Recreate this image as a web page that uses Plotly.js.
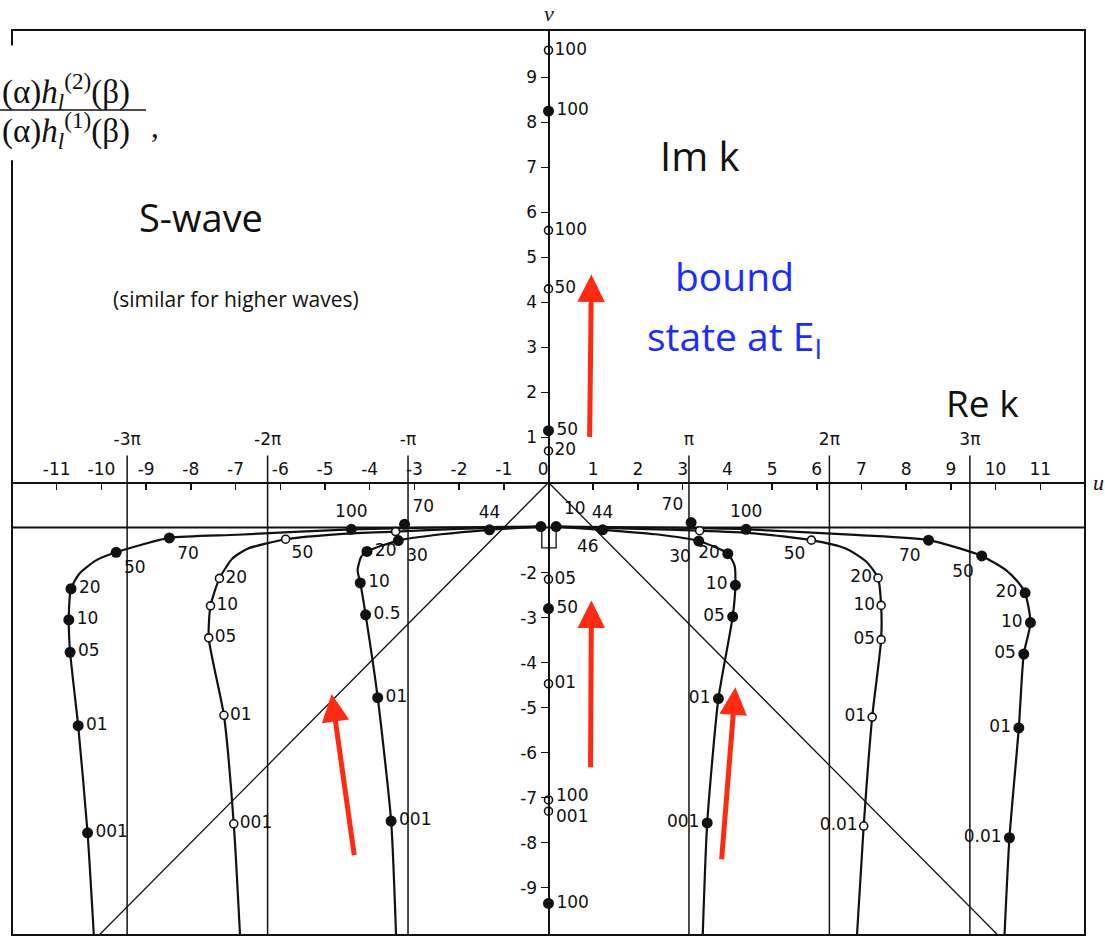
<!DOCTYPE html>
<html><head><meta charset="utf-8">
<script src="https://cdn.plot.ly/plotly-3.0.1.min.js"></script>
<style>html,body{margin:0;padding:0;background:#fff}#chart{width:1105px;height:937px}</style>
</head><body><div id="chart"></div>
<script>
// ---------- axis tick data ----------
const xTickVals = [-11,-10,-9,-8,-7,-6,-5,-4,-3,-2,-1,0,1,2,3,4,5,6,7,8,9,10,11];
const xTickText = ['-11','-10','-9','-8','-7','-6','-5','-4','-3','-2','-1','0\u00a0\u00a0','1','2','3','4','5','6','7','8','9','10','11'];
const yTickVals = [9,8,7,6,5,4,3,2,1,-2,-3,-4,-5,-6,-7,-8,-9];
const yTickText = ['9','8','7','6','5','4','3','2','1','-2','-3','-4','-5','-6','-7','-8','-9'];
const piVals = [-9.425,-6.283,-3.142,3.142,6.283,9.425];
const piText = ['-3\u03c0','-2\u03c0','-\u03c0','\u03c0','2\u03c0','3\u03c0'];

// ---------- reference lines ----------
const diagX = [-10.05, 0, 10.05];
const diagY = [-10.05, 0, -10.05];
const lineM1X = [-12, 12];
const lineM1Y = [-1, -1];

// ---------- pole trajectories ----------
const leftOuterX = [-10.17,-10.31,-10.52,-10.70,-10.73,-10.68,-10.49,-10.12,-9.67,-8.48,-6.96,-4.41,-2.50,-0.17];
const leftOuterY = [-10.05,-7.78,-5.40,-3.77,-3.05,-2.36,-2.02,-1.73,-1.55,-1.23,-1.16,-1.04,-1.00,-0.98];
const leftOpenX = [-6.90,-7.04,-7.26,-7.60,-7.56,-7.36,-7.07,-6.73,-5.88,-4.60,-3.42,-2.00,-0.17];
const leftOpenY = [-10.05,-7.58,-5.17,-3.45,-2.74,-2.13,-1.69,-1.47,-1.26,-1.14,-1.09,-1.03,-0.98];
const leftInnerX = [-3.41,-3.52,-3.82,-4.09,-4.21,-4.27,-4.19,-4.06,-3.36,-2.40,-1.32,-0.17];
const leftInnerY = [-10.05,-7.52,-4.78,-2.94,-2.23,-1.95,-1.65,-1.53,-1.29,-1.15,-1.05,-0.98];
const rightInnerX = [3.45,3.55,3.80,4.12,4.18,4.16,4.01,3.36,2.40,1.21,0.17];
const rightInnerY = [-10.05,-7.56,-4.80,-2.98,-2.28,-1.84,-1.58,-1.30,-1.15,-1.05,-0.98];
const rightOpenX = [6.90,7.05,7.24,7.44,7.44,7.37,7.11,6.66,5.88,4.60,3.38,2.00,0.17];
const rightOpenY = [-10.05,-7.63,-5.21,-3.49,-2.73,-2.12,-1.76,-1.47,-1.28,-1.13,-1.07,-1.03,-0.98];
const rightOuterX = [10.20,10.31,10.52,10.63,10.78,10.66,10.50,10.24,9.69,8.50,6.96,4.42,2.50,0.17];
const rightOuterY = [-10.05,-7.89,-5.45,-3.81,-3.11,-2.45,-2.21,-1.95,-1.63,-1.28,-1.17,-1.04,-1.00,-0.98];
const bracketX = [-0.15,-0.15,0.17,0.17];
const bracketY = [-0.98,-1.45,-1.45,-0.98];

// ---------- labelled points ----------
const filledX = [-10.31,-10.52,-10.70,-10.73,-10.68,-9.67,-8.48,
  -3.52,-3.82,-4.09,-4.21,-4.06,-3.36,-1.32,-4.41,-3.22,0.17,
  3.55,3.80,4.12,4.18,4.01,3.36,1.21,3.19,4.42,
  10.31,10.52,10.63,10.78,10.66,9.69,8.50,
  0,0,0,0];
const filledY = [-7.78,-5.40,-3.77,-3.05,-2.36,-1.55,-1.23,
  -7.52,-4.78,-2.94,-2.23,-1.53,-1.29,-1.05,-1.04,-0.93,-0.98,
  -7.56,-4.80,-2.98,-2.28,-1.58,-1.30,-1.05,-0.89,-1.04,
  -7.89,-5.45,-3.81,-3.11,-2.45,-1.63,-1.28,
  8.25,1.15,-2.80,-9.35];
const filledText = ['001','01','05','10','20','50','70',
  '001','01','0.5','10','20','30','44','100','70','10',
  '001','01','05','10','20','30','44','70','100',
  '0.01','01','05','10','20','50','70',
  '100','50','50','100'];
const filledPos = ['middle right','middle right','middle right','middle right','middle right','bottom right','bottom right',
  'middle right','middle right','middle right','middle right','middle right','bottom right','top center','top center','top right','top right',
  'middle left','middle left','middle left','middle left','middle left','bottom left','top center','top left','top center',
  'middle left','middle left','middle left','middle left','middle left','bottom left','bottom left',
  'middle right','middle right','middle right','middle right'];
const filledPlainX = [-0.17];
const filledPlainY = [-0.98];

const openX = [-7.04,-7.26,-7.60,-7.56,-7.36,-5.88,
  7.05,7.24,7.44,7.44,7.37,5.88,
  0,0,0,0,0,0];
const openY = [-7.58,-5.17,-3.45,-2.74,-2.13,-1.26,
  -7.63,-5.21,-3.49,-2.73,-2.12,-1.28,
  9.60,5.60,4.30,0.70,-2.15,-4.47];
const openText = ['001','01','05','10','20','50',
  '0.01','01','05','10','20','50',
  '100','100','50','20','05','01'];
const openPos = ['middle right','middle right','middle right','middle right','middle right','bottom right',
  'middle left','middle left','middle left','middle left','middle left','bottom left',
  'middle right','middle right','middle right','middle right','middle right','middle right'];
const openPlainX = [-3.42, 3.38, 0, 0];
const openPlainY = [-1.09, -1.07, -7.05, -7.30];
const openPlainText = ['100', '001'];   // labels of the two close axis points

// ---------- arrows (tail -> tip) ----------
const arrowTailX = [0.92, 0.94, -4.34, 3.87];
const arrowTailY = [0.98, -6.36, -8.31, -8.40];
const arrowTipX  = [0.96, 0.96, -4.85, 4.18];
const arrowTipY  = [4.62, -2.62, -4.70, -4.55];

// ---------- styles ----------
const INK = '#111';
const numFont = {family: 'DejaVu Sans, Liberation Sans, sans-serif', size: 17, color: INK};
const handFont = 'Open Sans, Noto Sans, sans-serif';
const serif = 'Liberation Serif, DejaVu Serif, serif';
const BLUE = '#1a2cff';
const RED = '#ff2a12';

const piTop = 0.6, piBottom = -10.05, piLabelLevel = 0.93;
const piLineX = [], piLineY = [];
piVals.forEach(v => { piLineX.push(v, v, null); piLineY.push(piTop, piBottom, null); });

function curve(x, y, w) {
  return {x: x, y: y, type: 'scatter', mode: 'lines', hoverinfo: 'skip',
          line: {color: INK, width: w || 2.2, shape: 'spline', smoothing: 0.6}};
}
const openMarker = {size: 8, color: '#fff', line: {color: INK, width: 1.6}};
const filledMarker = {size: 11, color: INK};

const traces = [
  {x: diagX, y: diagY, type: 'scatter', mode: 'lines', line: {color: INK, width: 1.3}},
  {x: piLineX, y: piLineY, type: 'scatter', mode: 'lines', line: {color: INK, width: 1.5}},
  {x: lineM1X, y: lineM1Y, type: 'scatter', mode: 'lines', line: {color: INK, width: 2}},
  curve(leftOuterX, leftOuterY), curve(leftOpenX, leftOpenY), curve(leftInnerX, leftInnerY),
  curve(rightInnerX, rightInnerY), curve(rightOpenX, rightOpenY), curve(rightOuterX, rightOuterY),
  {x: bracketX, y: bracketY, type: 'scatter', mode: 'lines', line: {color: INK, width: 1.3}},
  {x: openPlainX, y: openPlainY, type: 'scatter', mode: 'markers', marker: openMarker, cliponaxis: false},
  {x: openX, y: openY, text: openText, textposition: openPos, type: 'scatter', mode: 'markers+text',
   cliponaxis: false, textfont: numFont, marker: openMarker},
  {x: filledPlainX, y: filledPlainY, type: 'scatter', mode: 'markers', marker: filledMarker, cliponaxis: false},
  {x: filledX, y: filledY, text: filledText, textposition: filledPos, type: 'scatter', mode: 'markers+text',
   cliponaxis: false, textfont: numFont, marker: filledMarker},
  {x: piVals, y: piVals.map(() => piLabelLevel), text: piText, type: 'scatter', mode: 'text',
   textposition: 'middle center', textfont: numFont, cliponaxis: false}
];

const annotations = [
  {x: 3.38, y: 7.27, text: 'Im k', showarrow: false, font: {family: handFont, size: 40, color: INK}},
  {x: -7.78, y: 5.9, text: 'S-wave', showarrow: false, font: {family: handFont, size: 38, color: INK}},
  {x: -7.0, y: 4.07, text: '(similar for higher waves)', showarrow: false, font: {family: handFont, size: 21, color: INK}},
  {x: 4.16, y: 4.6, text: 'bound', showarrow: false, font: {family: handFont, size: 39, color: BLUE}},
  {x: 4.16, y: 3.2, text: 'state at E<sub>I</sub>', showarrow: false, font: {family: handFont, size: 39, color: BLUE}},
  {x: 9.7, y: 1.78, text: 'Re k', showarrow: false, font: {family: handFont, size: 37, color: INK}},
  {x: 0.6, y: -1.42, text: '46', showarrow: false, xanchor: 'left', font: numFont},
  {x: 0.13, y: -6.93, text: openPlainText[0], showarrow: false, xanchor: 'left', font: numFont},
  {x: 0.13, y: -7.40, text: openPlainText[1], showarrow: false, xanchor: 'left', font: numFont},
  {x: 0, xref: 'x', y: 1.0, yref: 'paper', yanchor: 'bottom', yshift: 2, text: '<i>v</i>', showarrow: false,
   font: {family: serif, size: 22, color: INK}},
  {x: 1.006, xref: 'paper', y: 0, yref: 'y', text: '<i>u</i>', showarrow: false, xanchor: 'left', yanchor: 'middle',
   font: {family: serif, size: 22, color: INK}},
  {x: -0.0112, xref: 'paper', y: 0.9315, yref: 'paper', xanchor: 'left', yanchor: 'middle', showarrow: false,
   text: '(\u03b1)<i>h</i><sub><i>l</i></sub><sup>(2)</sup>(\u03b2)',
   font: {family: serif, size: 33, color: INK}},
  {x: -0.0112, xref: 'paper', y: 0.8895, yref: 'paper', xanchor: 'left', yanchor: 'middle', showarrow: false,
   text: '(\u03b1)<i>h</i><sub><i>l</i></sub><sup>(1)</sup>(\u03b2)',
   font: {family: serif, size: 33, color: INK}},
  {x: 0.128, xref: 'paper', y: 0.893, yref: 'paper', xanchor: 'left', yanchor: 'middle', showarrow: false, text: ',',
   font: {family: serif, size: 31, color: INK}}
];
arrowTipX.forEach((tx, i) => {
  annotations.push({x: tx, y: arrowTipY[i], ax: arrowTailX[i], ay: arrowTailY[i],
    xref: 'x', yref: 'y', axref: 'x', ayref: 'y', text: '', showarrow: true,
    arrowhead: 2, arrowsize: 1.1, arrowwidth: 5, arrowcolor: RED, standoff: 0});
});

const layout = {
  width: 1105, height: 937,
  margin: {l: 12, r: 20, t: 30, b: 2},
  paper_bgcolor: '#fff', plot_bgcolor: '#fff',
  showlegend: false,
  xaxis: {range: [-12, 12], anchor: 'free', position: 0.5, side: 'top',
          tickmode: 'array', tickvals: xTickVals, ticktext: xTickText,
          ticks: 'inside', ticklen: 6, tickwidth: 1.5, tickcolor: INK,
          showline: true, linecolor: INK, linewidth: 2,
          showgrid: false, zeroline: false, tickfont: numFont, fixedrange: true},
  yaxis: {range: [-10.05, 10.05], anchor: 'free', position: 0.5, side: 'left',
          tickmode: 'array', tickvals: yTickVals, ticktext: yTickText,
          ticks: 'outside', ticklen: 7, tickwidth: 1.5, tickcolor: INK,
          showline: true, linecolor: INK, linewidth: 2,
          showgrid: false, zeroline: false, tickfont: numFont, fixedrange: true},
  shapes: [
    {type: 'rect', xref: 'paper', yref: 'paper', x0: 0, x1: 1, y0: 0, y1: 1,
     line: {color: INK, width: 2}},
    {type: 'rect', xref: 'paper', yref: 'paper', x0: -0.0112, x1: 0.145, y0: 0.856, y1: 0.983,
     fillcolor: '#fff', line: {width: 0}, layer: 'above'},
    {type: 'line', xref: 'paper', yref: 'paper', x0: -0.0112, x1: 0.1249, y0: 0.9116, y1: 0.9116,
     line: {color: INK, width: 1.5}}
  ],
  annotations: annotations
};

Plotly.newPlot('chart', traces, layout, {staticPlot: true, displayModeBar: false});
</script>
</body></html>
